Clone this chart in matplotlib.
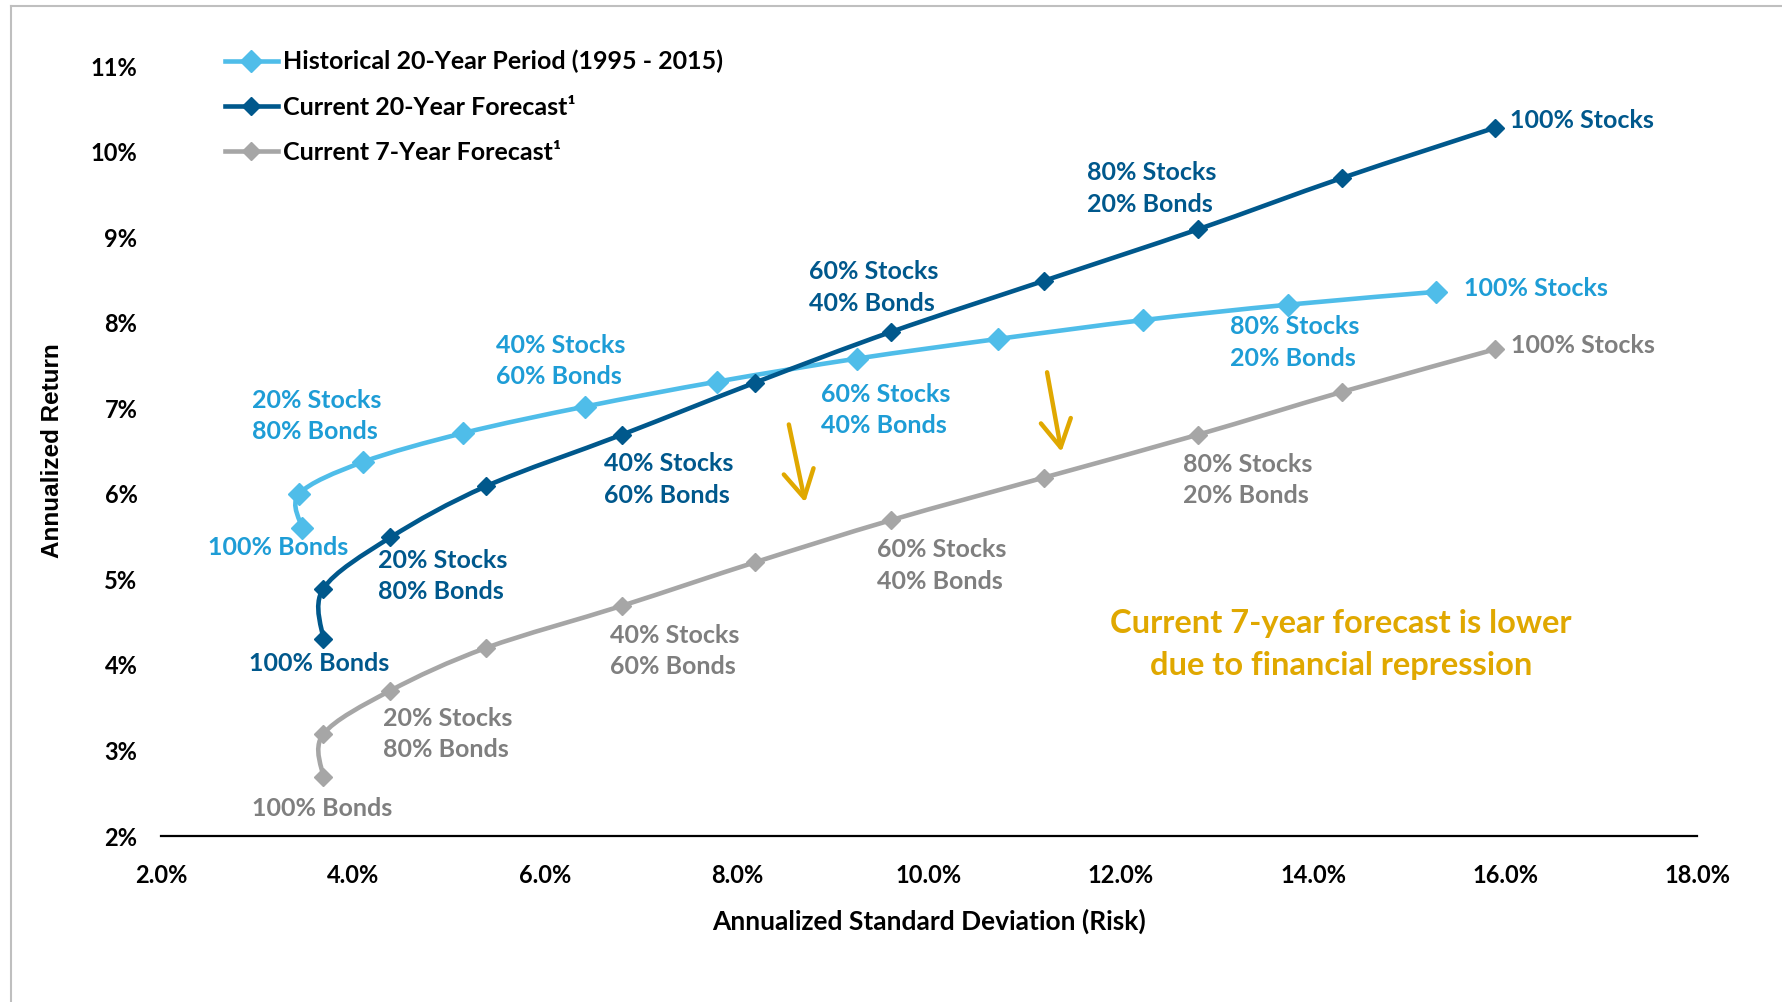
import numpy as np
import matplotlib
matplotlib.use("Agg")
import matplotlib.pyplot as plt
from matplotlib.path import Path
from matplotlib.patches import PathPatch
from matplotlib.lines import Line2D
from matplotlib.ticker import FuncFormatter

# === Données ===
hist_risk = [3.47, 3.44, 4.10, 5.15, 6.42, 7.79, 9.25, 10.72, 12.23, 13.74, 15.28]
hist_ret = [5.60, 6.00, 6.37, 6.71, 7.02, 7.31, 7.58, 7.81, 8.03, 8.21, 8.36]

fc_risk = [3.69, 3.69, 4.39, 5.39, 6.80, 8.19, 9.60, 11.20, 12.80, 14.30, 15.90]
fc20_ret = [4.30, 4.89, 5.49, 6.09, 6.69, 7.30, 7.89, 8.49, 9.09, 9.69, 10.28]
fc7_ret = [2.69, 3.19, 3.70, 4.20, 4.69, 5.20, 5.69, 6.19, 6.69, 7.19, 7.69]

series_names = ["Historical 20-Year Period (1995 - 2015)",
                "Current 20-Year Forecast¹",
                "Current 7-Year Forecast¹"]

x_ticks = [2, 4, 6, 8, 10, 12, 14, 16, 18]
y_ticks = [2, 3, 4, 5, 6, 7, 8, 9, 10, 11]

# (texte, x, y) pour chaque étiquette de portefeuille
hist_labels = [("100% Bonds", 3.22, 5.37, "center"),
               ("20% Stocks\n80% Bonds", 2.95, 6.91, "left"),
               ("40% Stocks\n60% Bonds", 5.49, 7.55, "left"),
               ("60% Stocks\n40% Bonds", 8.87, 6.98, "left"),
               ("80% Stocks\n20% Bonds", 13.14, 7.77, "left"),
               ("100% Stocks", 15.57, 8.40, "left")]
fc20_labels = [("100% Bonds", 2.92, 4.02, "left"),
               ("20% Stocks\n80% Bonds", 4.26, 5.04, "left"),
               ("40% Stocks\n60% Bonds", 6.61, 6.17, "left"),
               ("60% Stocks\n40% Bonds", 8.75, 8.41, "left"),
               ("80% Stocks\n20% Bonds", 11.65, 9.57, "left"),
               ("100% Stocks", 16.05, 10.36, "left")]
fc7_labels = [("100% Bonds", 2.95, 2.32, "left"),
              ("20% Stocks\n80% Bonds", 4.31, 3.19, "left"),
              ("40% Stocks\n60% Bonds", 6.68, 4.16, "left"),
              ("60% Stocks\n40% Bonds", 9.46, 5.16, "left"),
              ("80% Stocks\n20% Bonds", 12.65, 6.16, "left"),
              ("100% Stocks", 16.06, 7.73, "left")]

# === Couleurs ===
BLEU_CLAIR = "#4FBDE9"
BLEU_CLAIR_TXT = "#1E9DD6"
BLEU_FONCE = "#00588C"
GRIS = "#A6A6A6"
GRIS_TXT = "#7F7F7F"
OR = "#E0A800"

FONT = "Lato"
plt.rcParams["font.family"] = [FONT, "DejaVu Sans"]


def smooth_path(xs, ys):
    """Courbe lissée façon Excel (Bezier Catmull-Rom)"""
    pts = np.column_stack([xs, ys])
    n = len(pts)
    verts = [pts[0]]
    codes = [Path.MOVETO]
    for i in range(n - 1):
        p0 = pts[i - 1] if i > 0 else pts[i]
        p1 = pts[i]
        p2 = pts[i + 1]
        p3 = pts[i + 2] if i + 2 < n else pts[i + 1]
        c1 = p1 + (p2 - p0) / 6.0
        c2 = p2 - (p3 - p1) / 6.0
        verts += [c1, c2, p2]
        codes += [Path.CURVE4] * 3
    return Path(verts, codes)


fig = plt.figure(figsize=(17.82, 10.02), dpi=100)
ax = fig.add_axes([161 / 1782, 1 - 836 / 1002, (1697 - 161) / 1782, (836 - 66) / 1002])

series = [(hist_risk, hist_ret, BLEU_CLAIR, 11),
          (fc_risk, fc20_ret, BLEU_FONCE, 9),
          (fc_risk, fc7_ret, GRIS, 9)]

handles = []
for (xs, ys, col, ms), name in zip(series, series_names):
    ax.add_patch(PathPatch(smooth_path(xs, ys), facecolor="none", edgecolor=col,
                           lw=3.3, capstyle="round", zorder=3))
    ax.plot(xs, ys, linestyle="none", marker="D", markersize=ms, color=col, zorder=4)
    handles.append(Line2D([], [], color=col, lw=3.3, marker="D", markersize=ms, label=name))

for labels, col in [(hist_labels, BLEU_CLAIR_TXT), (fc20_labels, BLEU_FONCE), (fc7_labels, GRIS_TXT)]:
    for txt, lx, ly, ha in labels:
        ax.text(lx, ly, txt, color=col, fontsize=18, fontweight="bold", ha=ha, va="center",
                linespacing=1.45, zorder=5)

# flèches "baisse"
for (x0, y0), (x1, y1) in [((8.54, 6.81), (8.71, 5.90)), ((11.23, 7.42), (11.38, 6.49))]:
    ax.annotate("", xy=(x1, y1), xytext=(x0, y0),
                arrowprops=dict(arrowstyle="->,head_length=0.75,head_width=0.42",
                                mutation_scale=26, color=OR, lw=3.2,
                                shrinkA=0, shrinkB=0))

ax.text(14.29, 4.24, "Current 7-year forecast is lower\ndue to financial repression",
        color=OR, fontsize=23.5, fontweight="bold", ha="center", va="center", linespacing=1.55)

ax.set_xlim(2, 18)
ax.set_ylim(2, 11)
ax.set_xticks(x_ticks)
ax.set_yticks(y_ticks)
ax.xaxis.set_major_formatter(FuncFormatter(lambda v, p: f"{v:.1f}%"))
ax.yaxis.set_major_formatter(FuncFormatter(lambda v, p: f"{v:.0f}%"))
ax.tick_params(axis="both", length=0, labelsize=17)
ax.tick_params(axis="x", pad=20)
ax.tick_params(axis="y", pad=17)
for lab in ax.get_xticklabels() + ax.get_yticklabels():
    lab.set_fontweight("bold")

for s in ["top", "right", "left"]:
    ax.spines[s].set_visible(False)
ax.spines["bottom"].set_linewidth(1.6)
ax.spines["bottom"].set_color("black")

ax.set_xlabel("Annualized Standard Deviation (Risk)", fontsize=19, fontweight="bold", labelpad=16)
ax.set_ylabel("Annualized Return", fontsize=17.5, family="Liberation Sans", fontweight="bold")
ax.yaxis.set_label_coords(-0.063, 0.5)

leg = fig.legend(handles=handles, loc="upper left", bbox_to_anchor=(225 / 1782, 1 - 50 / 1002),
                 frameon=False, fontsize=18, handlelength=2.1, handletextpad=0.2,
                 labelspacing=0.88, borderpad=0, borderaxespad=0)
for t in leg.get_texts():
    t.set_fontweight("bold")

# cadre gris
fig.add_artist(Line2D([11 / 1782, 11 / 1782], [0, 1 - 6 / 1002], color="#BFBFBF", lw=1.5,
                      transform=fig.transFigure))
fig.add_artist(Line2D([11 / 1782, 1], [1 - 6 / 1002, 1 - 6 / 1002], color="#BFBFBF", lw=1.5,
                      transform=fig.transFigure))

fig.savefig("out.png", dpi=100)
